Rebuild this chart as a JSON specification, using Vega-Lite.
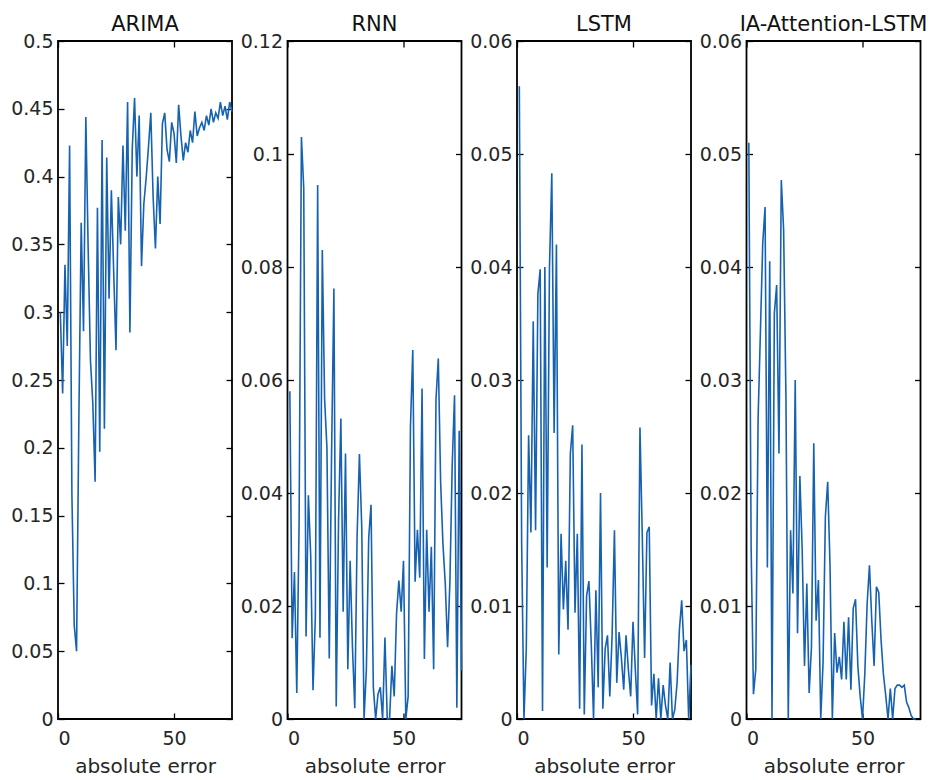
{
  "$schema": "https://vega.github.io/schema/vega-lite/v6.json",
  "background": "white",
  "padding": {"left": 9, "top": 13, "right": 0, "bottom": 0},
  "spacing": 55.5,
  "bounds": "flush",
  "datasets": {
    "ARIMA": [
      {"t":1,"err":0.30},{"t":2,"err":0.24},{"t":3,"err":0.335},{"t":4,"err":0.275},{"t":5,"err":0.423},
      {"t":6,"err":0.165},{"t":7,"err":0.069},{"t":8,"err":0.05},{"t":9,"err":0.222},{"t":10,"err":0.366},
      {"t":11,"err":0.286},{"t":12,"err":0.444},{"t":13,"err":0.347},{"t":14,"err":0.264},{"t":15,"err":0.233},
      {"t":16,"err":0.175},{"t":17,"err":0.377},{"t":18,"err":0.197},{"t":19,"err":0.427},{"t":20,"err":0.214},
      {"t":21,"err":0.414},{"t":22,"err":0.31},{"t":23,"err":0.39},{"t":24,"err":0.33},{"t":25,"err":0.272},
      {"t":26,"err":0.385},{"t":27,"err":0.35},{"t":28,"err":0.423},{"t":29,"err":0.36},{"t":30,"err":0.455},
      {"t":31,"err":0.285},{"t":32,"err":0.42},{"t":33,"err":0.458},{"t":34,"err":0.40},{"t":35,"err":0.445},
      {"t":36,"err":0.334},{"t":37,"err":0.38},{"t":38,"err":0.399},{"t":39,"err":0.422},{"t":40,"err":0.447},
      {"t":41,"err":0.385},{"t":42,"err":0.347},{"t":43,"err":0.40},{"t":44,"err":0.365},{"t":45,"err":0.439},
      {"t":46,"err":0.447},{"t":47,"err":0.42},{"t":48,"err":0.411},{"t":49,"err":0.44},{"t":50,"err":0.432},
      {"t":51,"err":0.41},{"t":52,"err":0.453},{"t":53,"err":0.43},{"t":54,"err":0.412},{"t":55,"err":0.425},
      {"t":56,"err":0.418},{"t":57,"err":0.434},{"t":58,"err":0.425},{"t":59,"err":0.448},{"t":60,"err":0.43},
      {"t":61,"err":0.436},{"t":62,"err":0.44},{"t":63,"err":0.434},{"t":64,"err":0.445},{"t":65,"err":0.438},
      {"t":66,"err":0.45},{"t":67,"err":0.44},{"t":68,"err":0.447},{"t":69,"err":0.443},{"t":70,"err":0.455},
      {"t":71,"err":0.445},{"t":72,"err":0.452},{"t":73,"err":0.442},{"t":74,"err":0.455},{"t":75,"err":0.448}
    ],
    "RNN": [
      {"t":1,"err":0.058},{"t":2,"err":0.0143},{"t":3,"err":0.026},{"t":4,"err":0.0046},{"t":5,"err":0.0347},
      {"t":6,"err":0.103},{"t":7,"err":0.094},{"t":8,"err":0.0146},{"t":9,"err":0.0396},{"t":10,"err":0.029},
      {"t":11,"err":0.0051},{"t":12,"err":0.0181},{"t":13,"err":0.0945},{"t":14,"err":0.0144},{"t":15,"err":0.083},
      {"t":16,"err":0.0566},{"t":17,"err":0.048},{"t":18,"err":0.0107},{"t":19,"err":0.047},{"t":20,"err":0.0762},
      {"t":21,"err":0.0022},{"t":22,"err":0.035},{"t":23,"err":0.0532},{"t":24,"err":0.019},{"t":25,"err":0.047},
      {"t":26,"err":0.0088},{"t":27,"err":0.028},{"t":28,"err":0.0127},{"t":29,"err":0.0019},{"t":30,"err":0.0323},
      {"t":31,"err":0.0469},{"t":32,"err":0.034},{"t":33,"err":0.0},{"t":34,"err":0.0088},{"t":35,"err":0.032},
      {"t":36,"err":0.0379},{"t":37,"err":0.0056},{"t":38,"err":0.0},{"t":39,"err":0.0044},{"t":40,"err":0.0056},
      {"t":41,"err":0.0},{"t":42,"err":0.0144},{"t":43,"err":0.0},{"t":44,"err":0.0},{"t":45,"err":0.0094},
      {"t":46,"err":0.004},{"t":47,"err":0.0186},{"t":48,"err":0.0245},{"t":49,"err":0.019},{"t":50,"err":0.028},
      {"t":51,"err":0.0},{"t":52,"err":0.004},{"t":53,"err":0.0517},{"t":54,"err":0.0653},{"t":55,"err":0.0243},
      {"t":56,"err":0.0335},{"t":57,"err":0.025},{"t":58,"err":0.0585},{"t":59,"err":0.0106},{"t":60,"err":0.0335},
      {"t":61,"err":0.019},{"t":62,"err":0.0305},{"t":63,"err":0.0088},{"t":64,"err":0.0565},{"t":65,"err":0.0638},
      {"t":66,"err":0.042},{"t":67,"err":0.031},{"t":68,"err":0.024},{"t":69,"err":0.0127},{"t":70,"err":0.0243},
      {"t":71,"err":0.045},{"t":72,"err":0.0573},{"t":73,"err":0.002},{"t":74,"err":0.051},{"t":75,"err":0.0086}
    ],
    "LSTM": [
      {"t":1,"err":0.056},{"t":2,"err":0.0156},{"t":3,"err":0.0},{"t":4,"err":0.0062},{"t":5,"err":0.0251},
      {"t":6,"err":0.0165},{"t":7,"err":0.0352},{"t":8,"err":0.0167},{"t":9,"err":0.0376},{"t":10,"err":0.0398},
      {"t":11,"err":0.0007},{"t":12,"err":0.040},{"t":13,"err":0.0134},{"t":14,"err":0.040},{"t":15,"err":0.0483},
      {"t":16,"err":0.0253},{"t":17,"err":0.042},{"t":18,"err":0.0057},{"t":19,"err":0.0164},{"t":20,"err":0.0097},
      {"t":21,"err":0.014},{"t":22,"err":0.0079},{"t":23,"err":0.0235},{"t":24,"err":0.026},{"t":25,"err":0.0094},
      {"t":26,"err":0.0164},{"t":27,"err":0.0009},{"t":28,"err":0.0243},{"t":29,"err":0.0004},{"t":30,"err":0.0109},
      {"t":31,"err":0.0122},{"t":32,"err":0.0067},{"t":33,"err":0.0},{"t":34,"err":0.0114},{"t":35,"err":0.0028},
      {"t":36,"err":0.02},{"t":37,"err":0.0009},{"t":38,"err":0.0062},{"t":39,"err":0.0074},{"t":40,"err":0.002},
      {"t":41,"err":0.0074},{"t":42,"err":0.0167},{"t":43,"err":0.0032},{"t":44,"err":0.0077},{"t":45,"err":0.0054},
      {"t":46,"err":0.0026},{"t":47,"err":0.0074},{"t":48,"err":0.0044},{"t":49,"err":0.002},{"t":50,"err":0.0086},
      {"t":51,"err":0.0044},{"t":52,"err":0.0004},{"t":53,"err":0.0258},{"t":54,"err":0.0162},{"t":55,"err":0.0054},
      {"t":56,"err":0.0165},{"t":57,"err":0.017},{"t":58,"err":0.0012},{"t":59,"err":0.004},{"t":60,"err":0.0},
      {"t":61,"err":0.0036},{"t":62,"err":0.0},{"t":63,"err":0.003},{"t":64,"err":0.0012},{"t":65,"err":0.0},
      {"t":66,"err":0.005},{"t":67,"err":0.0},{"t":68,"err":0.0008},{"t":69,"err":0.0032},{"t":70,"err":0.0079},
      {"t":71,"err":0.0105},{"t":72,"err":0.006},{"t":73,"err":0.007},{"t":74,"err":0.0},{"t":75,"err":0.0048}
    ],
    "IA": [
      {"t":1,"err":0.051},{"t":2,"err":0.0151},{"t":3,"err":0.0022},{"t":4,"err":0.0044},{"t":5,"err":0.0266},
      {"t":6,"err":0.0343},{"t":7,"err":0.0421},{"t":8,"err":0.0453},{"t":9,"err":0.0134},{"t":10,"err":0.0405},
      {"t":11,"err":0.0},{"t":12,"err":0.0359},{"t":13,"err":0.0384},{"t":14,"err":0.0235},{"t":15,"err":0.0477},
      {"t":16,"err":0.0433},{"t":17,"err":0.0285},{"t":18,"err":0.0},{"t":19,"err":0.0167},{"t":20,"err":0.0111},
      {"t":21,"err":0.03},{"t":22,"err":0.0076},{"t":23,"err":0.0215},{"t":24,"err":0.015},{"t":25,"err":0.0047},
      {"t":26,"err":0.012},{"t":27,"err":0.0023},{"t":28,"err":0.0064},{"t":29,"err":0.0244},{"t":30,"err":0.0087},
      {"t":31,"err":0.0123},{"t":32,"err":0.0},{"t":33,"err":0.005},{"t":34,"err":0.0179},{"t":35,"err":0.021},
      {"t":36,"err":0.0136},{"t":37,"err":0.0},{"t":38,"err":0.0076},{"t":39,"err":0.0041},{"t":40,"err":0.0055},
      {"t":41,"err":0.0035},{"t":42,"err":0.0086},{"t":43,"err":0.0035},{"t":44,"err":0.009},{"t":45,"err":0.0026},
      {"t":46,"err":0.0098},{"t":47,"err":0.0106},{"t":48,"err":0.0047},{"t":49,"err":0.002},{"t":50,"err":0.0},
      {"t":51,"err":0.004},{"t":52,"err":0.0102},{"t":53,"err":0.0136},{"t":54,"err":0.0087},{"t":55,"err":0.0047},
      {"t":56,"err":0.0117},{"t":57,"err":0.0112},{"t":58,"err":0.007},{"t":59,"err":0.004},{"t":60,"err":0.0021},
      {"t":61,"err":0.0},{"t":62,"err":0.0027},{"t":63,"err":0.0},{"t":64,"err":0.0027},{"t":65,"err":0.003},
      {"t":66,"err":0.003},{"t":67,"err":0.0028},{"t":68,"err":0.003},{"t":69,"err":0.0015},{"t":70,"err":0.001},
      {"t":71,"err":0.0003},{"t":72,"err":0.0},{"t":73,"err":0.0}
    ]
  },
  "hconcat": [
    {
      "width": 174, "height": 678,
      "title": {"text": "ARIMA"},
      "data": {"name": "ARIMA"},
      "layer": [
        {"mark": {"type": "line", "color": "#1762b0", "strokeWidth": 1.6},
         "encoding": {
           "x": {"field": "t", "type": "quantitative", "scale": {"domain": [0, 75], "nice": false},
                 "axis": {"orient": "bottom", "values": [0, 50], "format": "d", "title": "absolute error"}},
           "y": {"field": "err", "type": "quantitative", "scale": {"domain": [0, 0.5], "nice": false},
                 "axis": {"orient": "left", "values": [0, 0.05, 0.1, 0.15, 0.2, 0.25, 0.3, 0.35, 0.4, 0.45, 0.5], "format": ".2~f", "title": null}}
         }},
        {"mark": {"type": "line", "opacity": 0},
         "encoding": {
           "x": {"field": "t", "type": "quantitative", "axis": {"orient": "top", "values": [0, 50], "labels": false, "title": null}},
           "y": {"field": "err", "type": "quantitative", "axis": {"orient": "right", "values": [0, 0.05, 0.1, 0.15, 0.2, 0.25, 0.3, 0.35, 0.4, 0.45, 0.5], "labels": false, "title": null}}
         }}
      ],
      "resolve": {"axis": {"x": "independent", "y": "independent"}}
    },
    {
      "width": 174, "height": 678,
      "title": {"text": "RNN"},
      "data": {"name": "RNN"},
      "layer": [
        {"mark": {"type": "line", "color": "#1762b0", "strokeWidth": 1.6},
         "encoding": {
           "x": {"field": "t", "type": "quantitative", "scale": {"domain": [0, 75], "nice": false},
                 "axis": {"orient": "bottom", "values": [0, 50], "format": "d", "title": "absolute error"}},
           "y": {"field": "err", "type": "quantitative", "scale": {"domain": [0, 0.12], "nice": false},
                 "axis": {"orient": "left", "values": [0, 0.02, 0.04, 0.06, 0.08, 0.1, 0.12], "format": ".2~f", "title": null}}
         }},
        {"mark": {"type": "line", "opacity": 0},
         "encoding": {
           "x": {"field": "t", "type": "quantitative", "axis": {"orient": "top", "values": [0, 50], "labels": false, "title": null}},
           "y": {"field": "err", "type": "quantitative", "axis": {"orient": "right", "values": [0, 0.02, 0.04, 0.06, 0.08, 0.1, 0.12], "labels": false, "title": null}}
         }}
      ],
      "resolve": {"axis": {"x": "independent", "y": "independent"}}
    },
    {
      "width": 174, "height": 678,
      "title": {"text": "LSTM"},
      "data": {"name": "LSTM"},
      "layer": [
        {"mark": {"type": "line", "color": "#1762b0", "strokeWidth": 1.6},
         "encoding": {
           "x": {"field": "t", "type": "quantitative", "scale": {"domain": [0, 75], "nice": false},
                 "axis": {"orient": "bottom", "values": [0, 50], "format": "d", "title": "absolute error"}},
           "y": {"field": "err", "type": "quantitative", "scale": {"domain": [0, 0.06], "nice": false},
                 "axis": {"orient": "left", "values": [0, 0.01, 0.02, 0.03, 0.04, 0.05, 0.06], "format": ".2~f", "title": null}}
         }},
        {"mark": {"type": "line", "opacity": 0},
         "encoding": {
           "x": {"field": "t", "type": "quantitative", "axis": {"orient": "top", "values": [0, 50], "labels": false, "title": null}},
           "y": {"field": "err", "type": "quantitative", "axis": {"orient": "right", "values": [0, 0.01, 0.02, 0.03, 0.04, 0.05, 0.06], "labels": false, "title": null}}
         }}
      ],
      "resolve": {"axis": {"x": "independent", "y": "independent"}}
    },
    {
      "width": 174, "height": 678,
      "title": {"text": "IA-Attention-LSTM"},
      "data": {"name": "IA"},
      "layer": [
        {"mark": {"type": "line", "color": "#1762b0", "strokeWidth": 1.6},
         "encoding": {
           "x": {"field": "t", "type": "quantitative", "scale": {"domain": [0, 75], "nice": false},
                 "axis": {"orient": "bottom", "values": [0, 50], "format": "d", "title": "absolute error"}},
           "y": {"field": "err", "type": "quantitative", "scale": {"domain": [0, 0.06], "nice": false},
                 "axis": {"orient": "left", "values": [0, 0.01, 0.02, 0.03, 0.04, 0.05, 0.06], "format": ".2~f", "title": null}}
         }},
        {"mark": {"type": "line", "opacity": 0},
         "encoding": {
           "x": {"field": "t", "type": "quantitative", "axis": {"orient": "top", "values": [0, 50], "labels": false, "title": null}},
           "y": {"field": "err", "type": "quantitative", "axis": {"orient": "right", "values": [0, 0.01, 0.02, 0.03, 0.04, 0.05, 0.06], "labels": false, "title": null}}
         }}
      ],
      "resolve": {"axis": {"x": "independent", "y": "independent"}}
    }
  ],
  "config": {
    "view": {"stroke": "#000000", "strokeWidth": 1.8},
    "font": "DejaVu Sans",
    "title": {"font": "DejaVu Sans", "fontSize": 21, "fontWeight": "normal", "color": "#111111", "anchor": "middle", "baseline": "alphabetic", "offset": -3},
    "axis": {
      "domain": false, "grid": false,
      "tickSize": -6, "tickColor": "#000000", "tickWidth": 1.3,
      "labelFont": "DejaVu Sans", "labelFontSize": 19, "labelColor": "#262626",
      "titleFont": "DejaVu Sans", "titleFontSize": 20, "titleFontWeight": "normal", "titleColor": "#262626"
    },
    "axisY": {"labelPadding": 11},
    "axisX": {"labelPadding": 16, "titlePadding": 8}
  }
}
